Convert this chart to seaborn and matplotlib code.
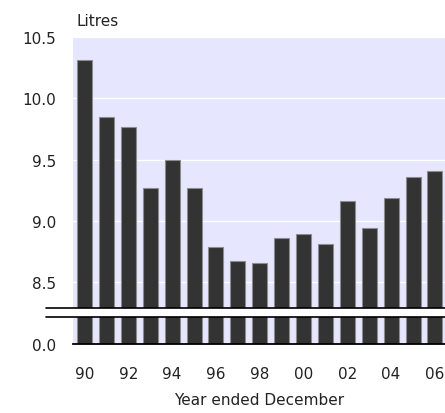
import matplotlib
matplotlib.use("Agg")
import matplotlib.pyplot as plt
import seaborn as sns
import pandas as pd

years = ['1990', '1991', '1992', '1993', '1994', '1995', '1996', '1997', '1998',
         '1999', '2000', '2001', '2002', '2003', '2004', '2005', '2006']
litres = [10.31, 9.85, 9.77, 9.27, 9.50, 9.27, 8.79, 8.67, 8.66,
          8.86, 8.89, 8.81, 9.16, 8.94, 9.19, 9.36, 9.41]
tick_pos = [0, 2, 4, 6, 8, 10, 12, 14, 16]
tick_labels = ['90', '92', '94', '96', '98', '00', '02', '04', '06']
top_ticks = [8.5, 9.0, 9.5, 10.0, 10.5]

df = pd.DataFrame({'year': years, 'litres': litres})

sns.set_style("white")
plt.rcParams['font.family'] = ['DejaVu Sans']

fig = plt.figure(figsize=(4.45, 4.14), dpi=100)
ax_top = fig.add_axes([73/445, 105/414, 372/445, 271/414])
ax_bot = fig.add_axes([73/445, 69/414, 372/445, 27/414])

for ax in (ax_top, ax_bot):
    sns.barplot(data=df, x='year', y='litres', order=years, color='#333333',
                saturation=1, width=0.685, edgecolor='#8c8c8c', linewidth=0.8,
                errorbar=None, ax=ax)
    ax.set_facecolor('#E6E6FF')
    ax.set_xlim(-0.525, 16.46)
    for s in ax.spines.values():
        s.set_visible(False)
    ax.set_ylabel('')
    ax.tick_params(length=0, labelsize=11, colors='#222222')

# top panel
ax_top.set_ylim(8.29, 10.5)
ax_top.set_yticks(top_ticks)
ax_top.set_yticklabels([f'{v:.1f}' for v in top_ticks])
ax_top.tick_params(axis='y', pad=12)
ax_top.set_xticks([])
ax_top.set_xlabel('')
ax_top.grid(axis='y', color='white', linewidth=1.0)
ax_top.set_axisbelow(True)
ax_top.plot([-0.073, 1], [0, 0], transform=ax_top.transAxes, color='black',
            linewidth=1.2, clip_on=False)

# bottom panel
ax_bot.set_ylim(0, 1)
ax_bot.set_yticks([0])
ax_bot.set_yticklabels(['0.0'])
ax_bot.tick_params(axis='y', pad=12)
ax_bot.set_xticks(tick_pos)
ax_bot.set_xticklabels(tick_labels)
ax_bot.tick_params(axis='x', pad=16)
ax_bot.set_xlabel('Year ended December', fontsize=11, labelpad=8, color='#222222')
ax_bot.spines['bottom'].set_visible(True)
ax_bot.spines['bottom'].set_color('black')
ax_bot.spines['bottom'].set_linewidth(1.3)
ax_bot.plot([-0.073, 1], [1, 1], transform=ax_bot.transAxes, color='black',
            linewidth=1.2, clip_on=False)

fig.text(77/445, 1 - 22/414, 'Litres', va='center', ha='left', fontsize=11,
         color='#222222')

fig.savefig('out.png', dpi=100)
